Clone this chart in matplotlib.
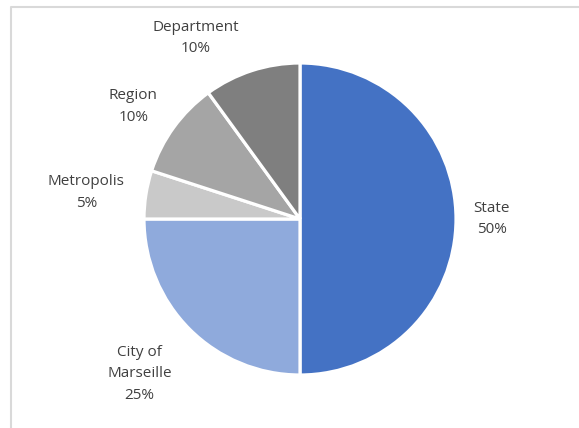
import matplotlib.pyplot as plt
import numpy as np

# funding shares
labels = ['State', 'City of\nMarseille', 'Metropolis', 'Region', 'Department']
shares = [50, 25, 5, 10, 10]
colors = ['#4472C4', '#8FAADC', '#C9C9C9', '#A5A5A5', '#7F7F7F']
# label placement: distance as a fraction of the radius, extra turn in degrees
label_dist = [1.23, 1.43, 1.38, 1.29, 1.34]
label_turn = [0, -1, 2, 2, 12]

W, H = 579, 428
fig = plt.figure(figsize=(W / 100, H / 100), dpi=100)
ax = fig.add_axes([0, 0, 1, 1])

# light frame round the chart area
ax.plot([10.5, 10.5, W + 5], [-5, H - 6.5, H - 6.5], color='#D9D9D9', lw=1.5,
        solid_capstyle='butt')

cx, cy, r = 300, H - 219, 156
wedges, _ = ax.pie(shares, colors=colors, startangle=90, counterclock=False,
                   center=(cx, cy), radius=r, frame=True,
                   wedgeprops=dict(edgecolor='white', linewidth=2.3))
ax.set_xlim(0, W)
ax.set_ylim(0, H)
ax.set_aspect('equal')
ax.axis('off')

for w, lab, val, d, t in zip(wedges, labels, shares, label_dist, label_turn):
    ang = np.deg2rad((w.theta1 + w.theta2) / 2 + t)
    x = cx + d * r * np.cos(ang)
    y = cy + d * r * np.sin(ang)
    ax.text(x, y, f'{lab}\n{val}%', ha='center', va='center',
            fontsize=11, color='#404040', family='Open Sans',
            linespacing=1.62)

fig.savefig('out.png', dpi=100)
